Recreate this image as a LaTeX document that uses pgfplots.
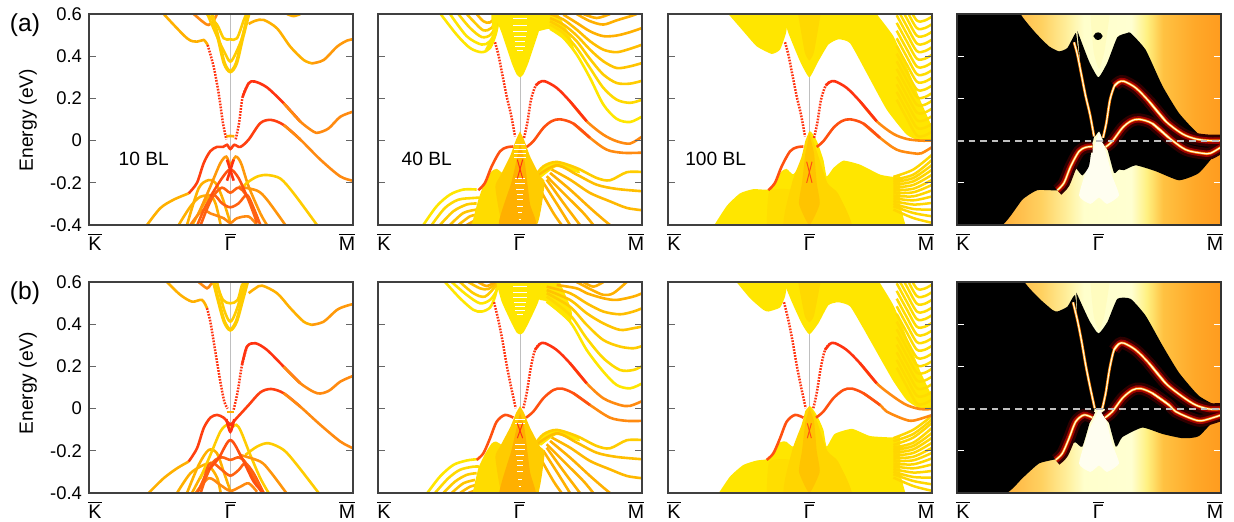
\documentclass[border=0pt]{standalone}
\usepackage{pgfplots}
\pgfplotsset{compat=1.18}
\usepackage{fontspec}
\setmainfont{Liberation Sans}
\definecolor{rd}{HTML}{FF3310}
\definecolor{ro}{HTML}{FF5010}
\definecolor{og}{HTML}{FF8A10}
\definecolor{am}{HTML}{FFB000}
\definecolor{yl}{HTML}{FFCC00}
\definecolor{yw}{HTML}{FFE600}
\definecolor{dk}{HTML}{404040}
\pgfdeclarehorizontalshading{heatx}{100bp}{rgb(0bp)=(1,0.66,0.2);rgb(33bp)=(1,0.68,0.22);rgb(41bp)=(1,0.82,0.38);rgb(46bp)=(1,0.94,0.62);rgb(49bp)=(1,1,0.8);rgb(58bp)=(1,1,0.82);rgb(61bp)=(1,0.94,0.5);rgb(64bp)=(1,0.76,0.26);rgb(70bp)=(1,0.66,0.16);rgb(75bp)=(1,0.61,0.12);rgb(100bp)=(1,0.61,0.12)}
\tikzset{lab/.style={font=\fontsize{9.6}{10}\selectfont}}
\pgfplotsset{
 panel/.style={scale only axis,width=132pt,height=105.5pt,anchor=south west,
  xmin=0,xmax=792,ymin=-0.4,ymax=0.6,axis on top,
  xtick={18,424,774},
  xticklabels={$\overline{\mbox{K}}$,$\overline{\mbox{Γ}}$,$\overline{\mbox{M}}$},
  xtick style={draw=none},
  xticklabel style={font=\fontsize{9.8}{10}\selectfont,yshift=-0.6pt},
  ytick={-0.4,-0.2,0,0.2,0.4,0.6},
  yticklabels={},
  tick align=inside,major tick length=3.5pt,
  ytick style={color=dk!80,line width=0.5pt},
  axis line style={color=dk,line width=0.6pt},
  tick pos=both,
 },
 first/.style={yticklabels={-0.4,-0.2,0,0.2,0.4,0.6},yticklabel style={font=\fontsize{9.2}{10}\selectfont}},
 heat/.style={ytick={-0.2,0.2,0.4},ytick style={color=white,line width=0.6pt},axis line style={color=black!80,line width=0.6pt}},
 dd/.style={color=rd,line width=1.25pt,dash pattern=on 0.85pt off 0.65pt,smooth},
 bd/.style={color=#1,line width=1.3pt,smooth},
 gl/.style={color=black!25,line width=0.5pt},
 pg/.style={fill=#1,draw=none,smooth,tension=0.3},
 h0/.style={color=red!18!black,line width=6pt,smooth},
 h1/.style={color=red!62!black,line width=3.2pt,smooth},
 h2/.style={color=orange,line width=1.3pt,smooth},
 h3/.style={color=yellow!15,line width=0.6pt,smooth},
 rib/.style={white,line width=0.45pt,unbounded coords=jump},
 sl/.style={line width=1.25pt,smooth,unbounded coords=jump},
}
% ---- row (a) surface states
\newcommand{\aDot}[1]{\addplot[#1] coordinates {(351,.466)(361,.408)(373,.313)(386,.21)(399,.123)(411,.02)};}
\newcommand{\aDotR}[1]{\addplot[#1] coordinates {(438,.013)(448,.084)(459,.194)(473,.261)(486,.278)};}
\newcommand{\aUp}[1]{\addplot[#1] coordinates {(473,.261)(486,.278)(501,.281)(536,.25)(576,.186)(626,.092)};}
\newcommand{\aUpII}[1]{\addplot[#1] coordinates {(576,.186)(626,.092)(676,.028)(716,-.003)(756,-.014)(793,.02)};}
\newcommand{\aUpIII}[1]{\addplot[#1] coordinates {(576,.186)(626,.092)(676,.032)(716,.008)(756,.0)(793,.0)};}
\newcommand{\aLoL}[1]{\addplot[#1] coordinates {(301,-.235)(321,-.2)(341,-.122)(366,-.051)(386,-.032)(406,-.028)};}
\newcommand{\aLoR}[1]{\addplot[#1] coordinates {(446,-.03)(466,-.003)(496,.06)(521,.092)(546,.101)(586,.081)(636,.013)};}
\newcommand{\aLoII}[1]{\addplot[#1] coordinates {(586,.081)(636,.013)(686,-.043)(736,-.058)(793,-.057)};}
\newcommand{\aLoIII}[1]{\addplot[#1] coordinates {(586,.081)(636,.013)(686,-.043)(736,-.06)(760,-.06)(793,-.03)};}
% ---- row (b) surface states
\newcommand{\bDot}[1]{\addplot[#1] coordinates {(348,.504)(361,.42)(373,.325)(386,.207)(399,.104)(413,.002)};}
\newcommand{\bDotR}[1]{\addplot[#1] coordinates {(436,.002)(446,.073)(458,.191)(471,.278)(486,.307)};}
\newcommand{\bUp}[1]{\addplot[#1] coordinates {(471,.278)(486,.307)(501,.31)(536,.278)(576,.215)(626,.12)};}
\newcommand{\bUpII}[1]{\addplot[#1] coordinates {(576,.215)(626,.12)(676,.049)(726,.017)(756,.013)(793,.036)};}
\newcommand{\bUpIII}[1]{\addplot[#1] coordinates {(576,.215)(626,.12)(676,.057)(716,.017)(756,-.002)(793,-.002)};}
\newcommand{\bLoL}[1]{\addplot[#1] coordinates {(296,-.243)(316,-.212)(336,-.141)(356,-.062)(381,-.03)(406,-.043)};}
\newcommand{\bLoR}[1]{\addplot[#1] coordinates {(444,-.043)(466,-.014)(496,.049)(526,.088)(551,.095)(586,.073)(636,.017)};}
\newcommand{\bLoII}[1]{\addplot[#1] coordinates {(586,.073)(636,.017)(696,-.043)(746,-.058)(793,-.058)};}
\newcommand{\bLoIII}[1]{\addplot[#1] coordinates {(586,.073)(636,.017)(656,-.014)(706,-.049)(736,-.057)(793,-.03)};}
% ---- bottom right family (40 BL)
\newcommand{\rightfam}{
 \addplot[pg=yw] coordinates {(471,-.169)(496,-.122)(536,-.101)(596,-.13)(604,-.155)(536,-.125)(490,-.175)} --cycle;
 \addplot[bd=am] coordinates {(486,-.232)(526,-.343)(551,-.4)};
 \addplot[bd=am] coordinates {(496,-.2)(541,-.311)(576,-.4)};
 \addplot[bd=am] coordinates {(506,-.185)(556,-.295)(606,-.4)};
 \addplot[bd=am] coordinates {(506,-.169)(566,-.264)(616,-.343)(646,-.4)};
 \addplot[bd=am] coordinates {(516,-.153)(576,-.232)(636,-.319)(676,-.374)(696,-.4)};
 \addplot[bd=am!70!yl] coordinates {(521,-.137)(576,-.185)(636,-.248)(696,-.288)(746,-.319)(793,-.33)};
 \addplot[bd=am!50!yl] coordinates {(476,-.169)(536,-.117)(596,-.161)(656,-.209)(716,-.229)(793,-.24)};
 \addplot[bd=yl] coordinates {(471,-.169)(496,-.122)(536,-.101)(596,-.13)(656,-.177)(696,-.188)(746,-.15)(793,-.149)};
}
% ---- stripes and fan (100 BL)
\newcommand{\stripes}{
 \addplot[color=yw!60!yl,sl] table[row sep=\\] {x y\\
 686 .739\\716 .652\\746 .57\\770 .569\\793 .589\\ 793 nan\\
 686 .703\\716 .616\\746 .534\\770 .533\\793 .553\\ 793 nan\\
 686 .667\\716 .58\\746 .498\\770 .497\\793 .517\\ 793 nan\\
 686 .63\\716 .543\\746 .461\\770 .46\\793 .48\\ 793 nan\\
 686 .594\\716 .507\\746 .425\\770 .424\\793 .444\\ 793 nan\\
 686 .558\\716 .471\\746 .389\\770 .388\\793 .408\\ 793 nan\\
 686 .521\\716 .434\\746 .352\\770 .351\\793 .371\\ 793 nan\\
 686 .485\\716 .398\\746 .316\\770 .315\\793 .335\\ 793 nan\\
 686 .449\\716 .362\\746 .28\\770 .279\\793 .299\\ 793 nan\\
 686 .412\\716 .325\\746 .243\\770 .242\\793 .262\\ 793 nan\\
 686 .376\\716 .289\\746 .207\\770 .206\\793 .226\\ 793 nan\\
 686 .34\\716 .253\\746 .171\\770 .17\\793 .19\\ 793 nan\\
 686 .303\\716 .216\\746 .134\\770 .133\\793 .153\\ 793 nan\\
 686 .267\\716 .18\\746 .098\\770 .097\\793 .117\\ 793 nan\\
 686 .231\\716 .144\\746 .062\\770 .061\\793 .081\\ 793 nan\\
 686 .194\\716 .107\\746 .025\\770 .024\\793 .044\\
 };
}
\newcommand{\fan}{
 \addplot[color=yw!40!yl,sl] table[row sep=\\] {x y\\
 676 -.172\\736 -.137\\793 -.066\\793 nan\\
 676 -.185\\736 -.161\\793 -.09\\793 nan\\
 676 -.197\\736 -.177\\793 -.114\\793 nan\\
 676 -.21\\736 -.193\\793 -.137\\793 nan\\
 676 -.223\\736 -.21\\793 -.161\\793 nan\\
 676 -.235\\736 -.228\\793 -.185\\793 nan\\
 676 -.248\\736 -.245\\793 -.209\\793 nan\\
 676 -.261\\736 -.264\\793 -.235\\793 nan\\
 676 -.273\\736 -.283\\793 -.264\\793 nan\\
 676 -.286\\736 -.303\\793 -.295\\793 nan\\
 676 -.299\\736 -.324\\793 -.327\\793 nan\\
 676 -.311\\736 -.343\\793 -.359\\793 nan\\
 676 -.327\\736 -.367\\793 -.39\\
 };
}
\begin{document}
\begin{tikzpicture}[x=1pt,y=1pt]
\path[use as bounding box] (0,0) rectangle (617,260.5);
\node[font=\fontsize{12.3}{13}\selectfont] at (12.5,248) {(a)};
\node[font=\fontsize{12.3}{13}\selectfont] at (12.5,114) {(b)};
\node[lab,rotate=90] at (14,200.5) {Energy (eV)};
\node[lab,rotate=90] at (14,69) {Energy (eV)};

% ======== (a) 10 BL
\begin{axis}[panel,first,at={(44.5pt,148pt)}]
\addplot[gl] coordinates {(424,-.4)(424,.6)};
\addplot[bd=am] coordinates {(594,.6)(614,.59)(634,.6)};
\addplot[bd=og] coordinates {(314,.6)(344,.56)(359,.548)(374,.57)(384,.6)};
\addplot[bd=am] coordinates {(224,.6)(294,.485)(324,.469)(344,.477)(356,.453)};
\addplot[bd=yl] coordinates {(354,.6)(384,.55)(404,.485)(424,.48)(444,.485)(464,.57)(472,.6)};
\addplot[bd=yl] coordinates {(355,.6)(385,.49)(406,.42)(424,.374)(442,.42)(462,.5)(475,.6)};
\addplot[color=yl,line width=1.8pt,smooth] coordinates {(369,.6)(389,.477)(406,.366)(424,.327)(442,.366)(459,.477)(479,.6)};
\addplot[bd=am] coordinates {(479,.553)(499,.568)(524,.572)(564,.532)(604,.445)(644,.382)(669,.366)};
\addplot[bd=og!60!am] coordinates {(669,.366)(704,.382)(744,.445)(774,.474)(792,.48)};
\addplot[dd] coordinates {(356,.453)(374,.35)(389,.224)(402,.082)(412,.006)};
\addplot[dd] coordinates {(440,.006)(450,.082)(461,.208)(479,.272)};
\addplot[bd=am] coordinates {(412,.02)(424,.022)(436,.02)};
\addplot[bd=rd] coordinates {(461,.208)(479,.272)(497,.28)(534,.252)(584,.177)(634,.09)};
\addplot[bd=og] coordinates {(584,.177)(634,.09)(674,.042)(689,.038)(719,.058)(754,.113)(792,.137)};
% valence
\addplot[bd=am] coordinates {(174,-.4)(214,-.32)(254,-.28)(299,-.25)};
\addplot[bd=rd!60!ro] coordinates {(299,-.25)(324,-.2)(344,-.107)(364,-.05)(384,-.03)(402,-.03)(414,-.02)(424,-.04)(436,-.02)(454,-.03)(479,.005)(514,.083)(546,.098)(584,.074)(634,.005)};
\addplot[bd=og] coordinates {(584,.074)(634,.005)(694,-.09)(754,-.17)(792,-.19)};
\addplot[bd=am] coordinates {(269,-.4)(304,-.313)(334,-.266)(374,-.258)};
\addplot[bd=am] coordinates {(294,-.4)(329,-.226)(359,-.187)(379,-.2)(399,-.266)(424,-.39)};
\addplot[bd=am] coordinates {(310,-.4)(344,-.3)(364,-.262)(380,-.3)(395,-.4)};
\addplot[bd=og] coordinates {(304,-.4)(340,-.33)(364,-.345)(404,-.368)(424,-.39)(444,-.368)(479,-.36)(504,-.4)};
\addplot[bd=og!60!am] coordinates {(329,-.345)(364,-.218)(394,-.107)(412,-.076)(424,-.115)(440,-.076)(456,-.107)(479,-.218)(514,-.345)(534,-.4)};
\addplot[bd=yl] coordinates {(454,-.234)(474,-.2)(504,-.171)(534,-.163)(574,-.18)(614,-.25)(684,-.4)};
\addplot[bd=og!70!am] coordinates {(449,-.218)(504,-.237)(534,-.28)(589,-.4)};
\addplot[bd=ro!70!og] coordinates {(325,-.4)(350,-.31)(374,-.258)(399,-.297)(424,-.316)(449,-.297)(474,-.258)(494,-.32)(514,-.4)};
\addplot[bd=ro!70!og] coordinates {(335,-.4)(355,-.32)(374,-.26)(399,-.223)(424,-.247)(449,-.223)(474,-.266)(504,-.39)};
\addplot[bd=ro] coordinates {(364,-.266)(399,-.178)(424,-.136)(449,-.178)(474,-.266)};
\addplot[bd=rd] coordinates {(414,-.09)(424,-.14)(434,-.19)};
\addplot[bd=rd] coordinates {(434,-.09)(424,-.14)(414,-.19)};
\node[lab] at (axis cs:164,-.087) {10 BL};
\end{axis}

% ======== (a) 40 BL
\begin{axis}[panel,at={(189pt,148pt)}]
\addplot[gl] coordinates {(426,-.4)(426,.6)};
% top left family
\addplot[bd=yw] coordinates {(188,.6)(236,.502)(276,.439)(311,.419)(336,.439)(354,.51)(364,.6)};
\addplot[bd=yw] coordinates {(216,.6)(266,.495)(311,.455)(336,.471)(356,.534)(364,.6)};
\addplot[bd=yw!50!yl] coordinates {(241,.6)(276,.534)(311,.491)(338,.502)(358,.558)(364,.6)};
\addplot[bd=yl] coordinates {(266,.6)(291,.558)(316,.523)(341,.534)(361,.6)};
\addplot[bd=am!60!yl] coordinates {(296,.6)(316,.566)(336,.56)(361,.6)};
\addplot[pg=yw] coordinates {(320,.43)(336,.44)(354,.51)(362,.6)(340,.6)(345,.5)} --cycle;
% V
\addplot[pg=yw] coordinates {(348,.6)(371,.51)(401,.368)(416,.313)(426,.3)(436,.313)(451,.368)(481,.51)(498,.6)} --cycle;
\addplot[rib] table[row sep=\\] {x y\\ 406 .577\\ 446 .577\\ 446 nan\\ 406 .545\\ 446 .545\\ 446 nan\\ 406 .518\\ 446 .518\\ 446 nan\\ 408 .495\\ 444 .495\\ 444 nan\\ 410 .471\\ 442 .471\\ 442 nan\\ 412 .447\\ 440 .447\\ 440 nan\\ 416 .428\\ 436 .428\\};
% top right family
\addplot[pg=yw] coordinates {(490,.6)(478,.52)(516,.53)(556,.487)(590,.42)(575,.5)(540,.6)} --cycle;
\addplot[bd=yw] coordinates {(516,.53)(556,.487)(596,.408)(636,.297)(676,.171)(716,.103)(756,.088)(793,.115)};
\addplot[bd=yw!50!yl] coordinates {(516,.55)(556,.51)(596,.439)(636,.344)(676,.25)(716,.194)(756,.179)(793,.194)};
\addplot[bd=yl] coordinates {(516,.566)(556,.529)(596,.471)(636,.387)(676,.313)(716,.273)(756,.27)(793,.284)};
\addplot[bd=yl!70!am] coordinates {(516,.581)(556,.55)(596,.498)(636,.431)(676,.376)(716,.344)(756,.352)(793,.368)};
\addplot[bd=yl!50!am] coordinates {(516,.6)(556,.574)(596,.526)(636,.471)(676,.431)(716,.419)(756,.435)(793,.455)};
\addplot[bd=am] coordinates {(556,.597)(596,.558)(636,.518)(676,.495)(716,.498)(756,.514)(793,.534)};
\addplot[bd=am] coordinates {(596,.6)(636,.566)(676,.55)(716,.57)(756,.589)(776,.6)};
\addplot[bd=am] coordinates {(616,.6)(656,.581)(696,.6)};
% bottom
\addplot[bd=yw] coordinates {(136,-.4)(176,-.311)(216,-.256)(256,-.232)(296,-.232)};
\addplot[bd=yw!50!yl] coordinates {(161,-.4)(201,-.319)(241,-.28)(286,-.272)(304,-.27)};
\addplot[bd=yl] coordinates {(186,-.4)(226,-.335)(266,-.303)(296,-.298)};
\addplot[bd=yl!70!am] coordinates {(216,-.4)(256,-.343)(296,-.327)};
\addplot[bd=yl!50!am] coordinates {(241,-.4)(276,-.359)(301,-.351)};
\addplot[bd=am] coordinates {(266,-.4)(296,-.374)(306,-.37)};
\addplot[pg=yw!60!yl] coordinates {(281,-.4)(301,-.28)(321,-.193)(341,-.145)(356,-.134)(376,-.16)(396,-.232)(376,-.4)} --cycle;
\rightfam
\addplot[pg=yl] coordinates {(426,.044)(438,.005)(456,-.074)(486,-.169)(500,-.2)(476,-.4)(376,-.4)(352,-.22)(366,-.169)(396,-.074)(414,.005)} --cycle;
\addplot[pg=am] coordinates {(426,-.01)(440,-.1)(456,-.3)(473,-.4)(363,-.4)(400,-.2)(416,-.09)} --cycle;
\addplot[rib] table[row sep=\\] {x y\\ 410 -.02\\ 442 -.02\\ 442 nan\\ 408 -.042\\ 444 -.042\\ 444 nan\\ 408 -.062\\ 444 -.062\\ 444 nan\\ 408 -.082\\ 444 -.082\\ 444 nan\\ 412 -.18\\ 440 -.18\\ 440 nan\\ 412 -.205\\ 440 -.205\\ 440 nan\\ 414 -.23\\ 438 -.23\\ 438 nan\\ 416 -.255\\ 436 -.255\\ 436 nan\\ 416 -.28\\ 436 -.28\\ 436 nan\\ 418 -.31\\ 434 -.31\\ 434 nan\\ 420 -.34\\ 432 -.34\\ 432 nan\\ 422 -.375\\ 430 -.375\\};
\addplot[color=rd,line width=.5pt] coordinates {(418,-.09)(434,-.18)};
\addplot[color=rd,line width=.5pt] coordinates {(434,-.09)(418,-.18)};
\aDot{dd}\aDotR{dd}
\aUpII{bd=og}\aUp{bd=rd}
\aLoII{bd=og}\aLoR{bd=ro}\aLoL{bd=ro}
\node[lab] at (axis cs:146,-.087) {40 BL};
\end{axis}

% ======== (a) 100 BL
\begin{axis}[panel,at={(334pt,148pt)}]
\addplot[gl] coordinates {(424,-.4)(424,.6)};
\addplot[pg=yw] coordinates {(181,.6)(226,.518)(266,.447)(311,.411)(336,.431)(354,.51)(361,.6)} --cycle;
\addplot[pg=yw] coordinates {(340,.62)(361,.51)(396,.376)(424,.3)(451,.376)(481,.455)(511,.48)(546,.462)(596,.32)(656,.147)(716,.028)(756,0)(800,0)(800,.035)(756,.194)(716,.352)(676,.495)(616,.62)} --cycle;
\addplot[pg=yl!50!yw] coordinates {(388,.62)(410,.42)(424,.38)(438,.42)(460,.62)} --cycle;
\stripes
\addplot[pg=yw] coordinates {(131,-.42)(176,-.31)(216,-.25)(256,-.23)(301,-.232)(321,-.193)(341,-.145)(356,-.134)(376,-.16)(400,-.1)(424,.044)(446,0)(466,-.09)(476,-.17)(496,-.13)(526,-.095)(576,-.114)(636,-.161)(676,-.172)(696,-.17)(696,-.3)(716,-.42)} --cycle;
\fan
\addplot[pg=yw!70!yl] coordinates {(296,-.42)(304,-.24)(380,-.24)(386,-.42)} --cycle;
\addplot[pg=yw!40!yl] coordinates {(424,.044)(440,-.02)(478,-.2)(510,-.25)(550,-.42)(350,-.42)(372,-.2)(400,-.08)(412,0)} --cycle;
\addplot[pg=yl!70!am] coordinates {(424,.03)(438,-.06)(446,-.2)(455,-.3)(424,-.4)(393,-.3)(402,-.2)(412,-.06)} --cycle;
\addplot[color=ro,line width=.5pt] coordinates {(416,-.1)(432,-.2)};
\addplot[color=ro,line width=.5pt] coordinates {(432,-.1)(416,-.2)};
\aDot{dd}\aDotR{dd}
\aUpIII{bd=og}\aUp{bd=rd}
\aLoIII{bd=og}\aLoR{bd=ro}\aLoL{bd=ro}
\node[lab] at (axis cs:143,-.087) {100 BL};
\end{axis}

% ======== (a) heat
\begin{axis}[panel,heat,at={(478.5pt,148pt)}]
\path[shading=heatx] (axis cs:0,-.4) rectangle (axis cs:792,.6);
\addplot[pg=yellow!25] coordinates {(426,.62)(400,.62)(410,.42)(426,.34)(442,.42)(460,.62)} --cycle;
\addplot[pg=yellow!6] coordinates {(426,.04)(446,-.05)(466,-.17)(486,-.26)(450,-.3)(426,-.27)(400,-.3)(366,-.26)(396,-.1)} --cycle;
\addplot[pg=black] coordinates {(-10,.7)(191,.7)(191,.6)(236,.51)(276,.447)(306,.423)(331,.439)(356,.51)(361,.46)(373,.33)(386,.21)(399,.12)(411,.02)(406,-.01)(396,-.12)(376,-.165)(356,-.13)(341,-.145)(321,-.2)(301,-.235)(241,-.235)(196,-.28)(136,-.4)(-10,-.5)} --cycle;
\addplot[pg=black] coordinates {(361,.52)(396,.376)(424,.3)(451,.37)(481,.49)(511,.51)(521,.51)(566,.43)(616,.26)(666,.13)(726,.03)(793,0)(793,-.03)(786,-.042)(726,-.153)(666,-.188)(596,-.145)(536,-.117)(501,-.14)(486,-.137)(471,-.153)(451,-.04)(436,.01)(426,.044)(411,.02)(399,.12)(386,.21)(373,.31)} --cycle;
\addplot[pg=black] coordinates {(409,.495)(416,.51)(423,.513)(430,.51)(437,.495)(430,.48)(423,.477)(416,.48)} --cycle;
\aUp{h0}\aUpIII{h0}\aLoR{h0}\aLoIII{h0}\aLoL{h0}
\aUp{h1}\aUpIII{h1}\aLoR{h1}\aLoIII{h1}\aLoL{h1}
\aDot{h2}\aDotR{h2}\aUp{h2}\aUpIII{h2}\aLoR{h2}\aLoIII{h2}\aLoL{h2}
\aDot{h3}\aDotR{h3}\aUp{h3}\aUpIII{h3}\aLoR{h3}\aLoIII{h3}\aLoL{h3}
\addplot[color=black!25,line width=1pt,dash pattern=on 3.3pt off 2.5pt] coordinates {(0,0)(792,0)};
\end{axis}

% ======== (b) 10 BL
\begin{axis}[panel,first,at={(44.5pt,14pt)}]
\addplot[gl] coordinates {(424,-.4)(424,.6)};
\addplot[bd=og] coordinates {(329,.6)(354,.57)(364,.586)(374,.6)};
\addplot[bd=am] coordinates {(234,.6)(274,.539)(309,.507)(339,.515)(354,.476)};
\addplot[bd=yl] coordinates {(384,.586)(402,.515)(424,.499)(446,.515)(459,.586)(472,.6)};
\addplot[bd=yl] coordinates {(384,.6)(406,.465)(424,.412)(442,.465)(469,.6)};
\addplot[color=yl,line width=1.8pt,smooth] coordinates {(374,.6)(389,.507)(406,.412)(424,.373)(442,.412)(459,.507)(475,.6)};
\addplot[bd=am] coordinates {(479,.547)(499,.57)(519,.583)(564,.547)(604,.476)(644,.412)(669,.397)};
\addplot[bd=og!60!am] coordinates {(669,.397)(704,.412)(744,.468)(774,.488)(792,.495)};
\addplot[dd] coordinates {(354,.476)(364,.412)(379,.27)(394,.128)(406,.033)(416,0)};
\addplot[dd] coordinates {(434,-.005)(446,.08)(459,.207)(474,.294)};
\addplot[bd=am] coordinates {(414,-.017)(434,-.017)};
\addplot[bd=rd] coordinates {(459,.207)(474,.294)(499,.31)(534,.278)(584,.199)(634,.12)};
\addplot[bd=og] coordinates {(584,.199)(634,.12)(684,.073)(719,.084)(754,.128)(792,.155)};
\addplot[bd=am] coordinates {(179,-.4)(224,-.33)(264,-.283)(299,-.251)};
\addplot[bd=rd!60!ro] coordinates {(299,-.251)(324,-.188)(344,-.093)(364,-.043)(384,-.03)(404,-.043)(424,-.074)(444,-.043)(479,.017)(514,.077)(546,.093)(584,.073)(634,.009)};
\addplot[bd=og] coordinates {(584,.073)(634,.009)(694,-.077)(754,-.156)(792,-.188)};
\addplot[bd=am] coordinates {(264,-.4)(304,-.307)(344,-.267)(374,-.255)};
\addplot[bd=am] coordinates {(294,-.4)(329,-.267)(359,-.196)(384,-.212)(404,-.299)(424,-.39)};
\addplot[bd=am] coordinates {(309,-.4)(344,-.299)(364,-.28)(385,-.33)(395,-.4)};
\addplot[bd=og] coordinates {(320,-.4)(359,-.33)(394,-.362)(424,-.39)(454,-.37)(479,-.354)(504,-.394)};
\addplot[bd=yl] coordinates {(334,-.33)(364,-.22)(394,-.109)(414,-.077)(424,-.093)(442,-.077)(456,-.109)(484,-.22)(514,-.33)(539,-.4)};
\addplot[bd=yl] coordinates {(469,-.22)(504,-.18)(539,-.164)(584,-.196)(624,-.267)(689,-.4)};
\addplot[bd=og!70!am] coordinates {(454,-.22)(514,-.251)(544,-.299)(592,-.4)};
\addplot[bd=ro!70!og] coordinates {(325,-.4)(345,-.33)(359,-.267)(374,-.259)(399,-.291)(424,-.318)(449,-.291)(469,-.259)(494,-.307)(524,-.4)};
\addplot[bd=ro!70!og] coordinates {(335,-.4)(350,-.33)(374,-.251)(399,-.231)(424,-.243)(449,-.231)(469,-.254)(494,-.33)(519,-.4)};
\addplot[bd=ro] coordinates {(359,-.29)(389,-.235)(424,-.149)(459,-.235)(494,-.346)(524,-.4)};
\addplot[bd=rd] coordinates {(412,-.05)(424,-.11)(436,-.05)};
\addplot[bd=rd] coordinates {(414,-.08)(424,-.075)(434,-.08)};
\end{axis}

% ======== (b) 40 BL
\begin{axis}[panel,at={(189pt,14pt)}]
\addplot[gl] coordinates {(426,-.4)(426,.6)};
\addplot[bd=yw] coordinates {(201,.6)(246,.523)(286,.468)(311,.46)(336,.479)(351,.531)(361,.6)};
\addplot[bd=yw] coordinates {(221,.6)(266,.539)(306,.499)(336,.515)(354,.555)(361,.6)};
\addplot[bd=yl] coordinates {(246,.6)(286,.547)(321,.531)(356,.586)(360,.6)};
\addplot[bd=yl!60!am] coordinates {(271,.6)(306,.57)(331,.567)(358,.6)};
\addplot[bd=am] coordinates {(301,.6)(326,.581)(351,.6)};
\addplot[pg=yw] coordinates {(351,.62)(371,.507)(401,.404)(416,.36)(426,.352)(436,.36)(451,.404)(481,.507)(495,.62)} --cycle;
\addplot[rib] table[row sep=\\] {x y\\ 406 .58\\ 446 .58\\ 446 nan\\ 406 .55\\ 446 .55\\ 446 nan\\ 406 .525\\ 446 .525\\ 446 nan\\ 408 .505\\ 444 .505\\ 444 nan\\ 410 .485\\ 442 .485\\ 442 nan\\ 412 .465\\ 440 .465\\ 440 nan\\ 416 .445\\ 436 .445\\};
\addplot[pg=yw] coordinates {(495,.62)(482,.52)(506,.507)(576,.412)(580,.47)(540,.62)} --cycle;
\addplot[bd=yw] coordinates {(506,.507)(576,.412)(626,.278)(676,.175)(716,.112)(756,.096)(793,.12)};
\addplot[bd=yw!50!yl] coordinates {(506,.531)(576,.444)(626,.333)(676,.239)(726,.183)(766,.183)(793,.202)};
\addplot[bd=yl] coordinates {(506,.547)(576,.483)(626,.397)(676,.325)(726,.294)(766,.286)(793,.297)};
\addplot[bd=yl!70!am] coordinates {(506,.562)(576,.515)(626,.452)(676,.404)(726,.373)(766,.381)(793,.389)};
\addplot[bd=yl!50!am] coordinates {(506,.578)(576,.547)(626,.499)(676,.46)(726,.447)(766,.46)(793,.476)};
\addplot[bd=am] coordinates {(536,.586)(596,.57)(626,.547)(676,.523)(716,.515)(766,.531)(793,.547)};
\addplot[bd=am] coordinates {(596,.6)(636,.567)(676,.539)(706,.547)(746,.6)};
\addplot[bd=am] coordinates {(616,.6)(646,.578)(676,.6)};
\addplot[bd=yw] coordinates {(148,-.4)(186,-.322)(226,-.267)(266,-.246)(296,-.24)};
\addplot[bd=yw!50!yl] coordinates {(171,-.4)(211,-.33)(246,-.29)(286,-.275)(304,-.275)};
\addplot[bd=yl] coordinates {(196,-.4)(231,-.346)(266,-.314)(296,-.306)};
\addplot[bd=yl!70!am] coordinates {(221,-.4)(256,-.354)(291,-.338)};
\addplot[bd=yl!50!am] coordinates {(246,-.4)(276,-.37)(296,-.362)};
\addplot[bd=am] coordinates {(271,-.4)(296,-.385)};
\addplot[pg=yw!60!yl] coordinates {(281,-.42)(301,-.283)(321,-.215)(341,-.165)(354,-.156)(376,-.18)(396,-.25)(376,-.42)} --cycle;
\rightfam
\addplot[pg=yl] coordinates {(426,.012)(438,-.02)(456,-.09)(486,-.18)(500,-.21)(476,-.42)(376,-.42)(352,-.23)(366,-.18)(396,-.09)(414,-.02)} --cycle;
\addplot[pg=am] coordinates {(426,-.02)(440,-.1)(456,-.3)(473,-.42)(363,-.42)(400,-.2)(416,-.09)} --cycle;
\addplot[rib] table[row sep=\\] {x y\\ 412 -.05\\ 440 -.05\\ 440 nan\\ 412 -.07\\ 440 -.07\\ 440 nan\\ 412 -.17\\ 440 -.17\\ 440 nan\\ 412 -.195\\ 440 -.195\\ 440 nan\\ 414 -.22\\ 438 -.22\\ 438 nan\\ 416 -.245\\ 436 -.245\\ 436 nan\\ 416 -.27\\ 436 -.27\\ 436 nan\\ 418 -.3\\ 434 -.3\\ 434 nan\\ 420 -.335\\ 432 -.335\\ 432 nan\\ 422 -.37\\ 430 -.37\\};
\addplot[color=rd,line width=.5pt] coordinates {(418,-.07)(434,-.14)};
\addplot[color=rd,line width=.5pt] coordinates {(434,-.07)(418,-.14)};
\bDot{dd}\bDotR{dd}
\bUpII{bd=og}\bUp{bd=rd}
\bLoII{bd=og}\bLoR{bd=ro}\bLoL{bd=ro}
\end{axis}

% ======== (b) 100 BL
\begin{axis}[panel,at={(334pt,14pt)}]
\addplot[gl] coordinates {(424,-.4)(424,.6)};
\addplot[pg=yw] coordinates {(195,.62)(246,.523)(286,.468)(301,.46)(336,.479)(351,.531)(361,.62)} --cycle;
\addplot[pg=yw] coordinates {(342,.62)(371,.507)(401,.404)(424,.352)(451,.404)(481,.49)(511,.504)(546,.485)(586,.38)(636,.24)(676,.13)(716,.04)(756,0)(800,0)(800,.03)(756,.18)(716,.34)(676,.49)(626,.62)} --cycle;
\addplot[pg=yl!50!yw] coordinates {(388,.62)(410,.44)(424,.41)(438,.44)(460,.62)} --cycle;
\stripes
\addplot[pg=yw] coordinates {(144,-.42)(186,-.322)(226,-.267)(266,-.246)(296,-.24)(316,-.212)(336,-.16)(354,-.156)(376,-.18)(400,-.1)(424,.012)(446,-.03)(466,-.1)(476,-.18)(500,-.12)(552,-.096)(606,-.13)(676,-.137)(696,-.135)(696,-.3)(716,-.42)} --cycle;
\fan
\addplot[color=yw!40!yl,sl] coordinates {(676,-.14)(736,-.1)(793,-.033)};
\addplot[color=yw!40!yl,sl] coordinates {(676,-.155)(736,-.12)(793,-.05)};
\addplot[pg=yw!70!yl] coordinates {(296,-.42)(304,-.25)(380,-.25)(386,-.42)} --cycle;
\addplot[pg=yw!40!yl] coordinates {(424,.012)(440,-.03)(478,-.2)(510,-.25)(550,-.42)(350,-.42)(372,-.2)(400,-.08)(412,-.01)} --cycle;
\addplot[pg=yl!70!am] coordinates {(424,.0)(438,-.06)(446,-.2)(455,-.3)(424,-.4)(393,-.3)(402,-.2)(412,-.06)} --cycle;
\addplot[color=ro,line width=.5pt] coordinates {(418,-.07)(430,-.14)};
\addplot[color=ro,line width=.5pt] coordinates {(430,-.07)(418,-.14)};
\bDot{dd}\bDotR{dd}
\bUpIII{bd=og}\bUp{bd=rd}
\bLoIII{bd=og}\bLoR{bd=ro}\bLoL{bd=ro}
\end{axis}

% ======== (b) heat
\begin{axis}[panel,heat,at={(478.5pt,14pt)}]
\path[shading=heatx] (axis cs:0,-.4) rectangle (axis cs:792,.6);
\addplot[pg=yellow!25] coordinates {(426,.62)(400,.62)(410,.44)(426,.37)(442,.44)(460,.62)} --cycle;
\addplot[pg=yellow!6] coordinates {(426,.0)(446,-.05)(466,-.17)(486,-.26)(450,-.3)(426,-.27)(400,-.3)(366,-.26)(396,-.1)} --cycle;
\addplot[pg=black] coordinates {(-10,.7)(203,.7)(203,.6)(246,.523)(286,.468)(301,.46)(331,.483)(354,.539)(361,.42)(373,.325)(386,.207)(399,.104)(413,.002)(401,-.05)(376,-.18)(356,-.16)(341,-.17)(316,-.23)(296,-.24)(246,-.26)(196,-.33)(149,-.4)(-10,-.5)} --cycle;
\addplot[pg=black] coordinates {(358,.55)(396,.42)(424,.356)(451,.41)(481,.52)(521,.52)(566,.44)(616,.3)(666,.17)(726,.06)(793,0)(793,-.015)(726,-.13)(676,-.14)(616,-.12)(556,-.09)(496,-.135)(476,-.18)(446,-.01)(436,0)(413,.002)(399,.104)(386,.207)(373,.325)(361,.42)} --cycle;
\bUp{h0}\bUpIII{h0}\bLoR{h0}\bLoIII{h0}\bLoL{h0}
\bUp{h1}\bUpIII{h1}\bLoR{h1}\bLoIII{h1}\bLoL{h1}
\bDot{h2}\bDotR{h2}\bUp{h2}\bUpIII{h2}\bLoR{h2}\bLoIII{h2}\bLoL{h2}
\bDot{h3}\bDotR{h3}\bUp{h3}\bUpIII{h3}\bLoR{h3}\bLoIII{h3}\bLoL{h3}
\addplot[color=black!25,line width=1pt,dash pattern=on 3.3pt off 2.5pt] coordinates {(0,0)(792,0)};
\end{axis}
\end{tikzpicture}
\end{document}
